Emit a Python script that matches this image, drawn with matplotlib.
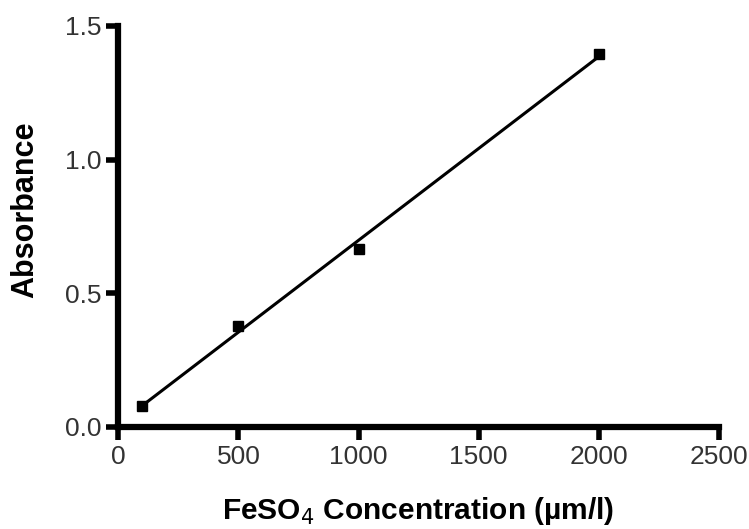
import matplotlib.pyplot as plt
import numpy as np
from matplotlib.ticker import FormatStrFormatter

plt.rcParams['font.family'] = ['Liberation Sans', 'DejaVu Sans']

# FeSO4 standard curve
conc = [100, 500, 1000, 2000]
absorbance = [0.079, 0.378, 0.665, 1.395]
x_ticks = [0, 500, 1000, 1500, 2000, 2500]
y_ticks = [0.0, 0.5, 1.0, 1.5]

fig = plt.figure(figsize=(7.49, 5.29), dpi=100)
ax = fig.add_axes([0.1582, 0.193, 0.8011, 0.758])

# linear regression over the measured range
slope, intercept = np.polyfit(conc, absorbance, 1)
xfit = np.array([min(conc), max(conc)])
ax.plot(xfit, slope * xfit + intercept, color='black', lw=2.2)
ax.plot(conc, absorbance, 's', color='black', ms=7.5)

ax.set_xlim(0, 2500)
ax.set_ylim(0, 1.5)
ax.set_xticks(x_ticks)
ax.set_yticks(y_ticks)
ax.yaxis.set_major_formatter(FormatStrFormatter('%.1f'))

for s in ['top', 'right']:
    ax.spines[s].set_visible(False)
for s in ['left', 'bottom']:
    ax.spines[s].set_linewidth(4.5)
ax.tick_params(width=4, length=9, labelsize=19, labelcolor='#333333')
ax.tick_params(axis='y', pad=3)
ax.tick_params(axis='x', pad=4)

ax.set_xlabel('FeSO$_4$ Concentration (µm/l)', fontsize=21.5, fontweight='bold', va='center')
ax.set_ylabel('Absorbance', fontsize=22, fontweight='bold', va='center')
ax.xaxis.set_label_coords(0.5, -0.21)
ax.yaxis.set_label_coords(-0.155, 0.541)

fig.savefig('out.png', dpi=100)
